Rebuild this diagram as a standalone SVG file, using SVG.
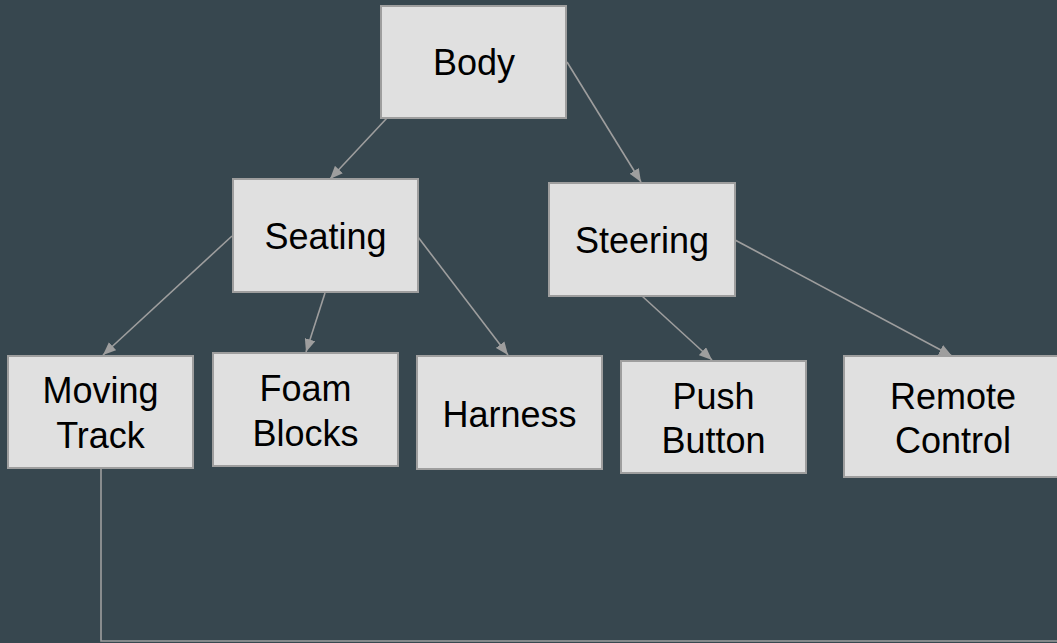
<svg xmlns="http://www.w3.org/2000/svg" width="1057" height="643" viewBox="0 0 1057 643">
<defs>
<style>
.box{fill:#e0e0e0;stroke:#9e9e9e;stroke-width:2}
.lbl{font-family:"Liberation Sans",Arial,sans-serif;font-size:36px;fill:#000;text-anchor:middle}
.conn{fill:none;stroke:#9e9e9e;stroke-width:1.6}
</style>
<marker id="arr" viewBox="0 0 10 10" refX="9" refY="5" markerWidth="8" markerHeight="8" markerUnits="userSpaceOnUse" orient="auto">
<path d="M0,0 L10,5 L0,10 z" fill="#9e9e9e"/>
</marker>
<marker id="arrow" viewBox="0 0 12 10" refX="12" refY="5" markerWidth="13" markerHeight="11" markerUnits="userSpaceOnUse" orient="auto">
<path d="M0,0 L12,5 L0,10 z" fill="#9e9e9e"/>
</marker>
</defs>
<rect width="1057" height="643" fill="#37474f"/>
<g id="connectors">
<line class="conn" x1="387" y1="118" x2="330" y2="179" marker-end="url(#arrow)"/>
<line class="conn" x1="567" y1="62" x2="641" y2="182" marker-end="url(#arrow)"/>
<line class="conn" x1="232" y1="236" x2="103" y2="355" marker-end="url(#arrow)"/>
<line class="conn" x1="325" y1="293" x2="306" y2="352" marker-end="url(#arrow)"/>
<line class="conn" x1="418" y1="237" x2="508" y2="355" marker-end="url(#arrow)"/>
<line class="conn" x1="642" y1="296" x2="712" y2="360" marker-end="url(#arrow)"/>
<line class="conn" x1="735" y1="240" x2="952" y2="356" marker-end="url(#arrow)"/>
<polyline class="conn" points="101,468 101,641 1060,641"/>
</g>
<g id="body"><rect class="box" x="381" y="6" width="185" height="112"/><text class="lbl" x="474" y="75">Body</text></g>
<g id="seating"><rect class="box" x="233" y="179" width="185" height="113"/><text class="lbl" x="325.5" y="249">Seating</text></g>
<g id="steering"><rect class="box" x="549" y="183" width="186" height="113"/><text class="lbl" x="642" y="253">Steering</text></g>
<g id="moving-track"><rect class="box" x="8" y="356" width="185" height="112"/><text class="lbl" x="100.5" y="403">Moving</text><text class="lbl" x="100.5" y="448">Track</text></g>
<g id="foam-blocks"><rect class="box" x="213" y="353" width="185" height="113"/><text class="lbl" x="305.5" y="401">Foam</text><text class="lbl" x="305.5" y="446">Blocks</text></g>
<g id="harness"><rect class="box" x="417" y="356" width="185" height="113"/><text class="lbl" x="509.5" y="427">Harness</text></g>
<g id="push-button"><rect class="box" x="621" y="361" width="185" height="112"/><text class="lbl" x="713.5" y="409">Push</text><text class="lbl" x="713.5" y="453">Button</text></g>
<g id="remote-control"><rect class="box" x="844" y="356" width="218" height="121"/><text class="lbl" x="953" y="409">Remote</text><text class="lbl" x="953" y="453">Control</text></g>
</svg>
